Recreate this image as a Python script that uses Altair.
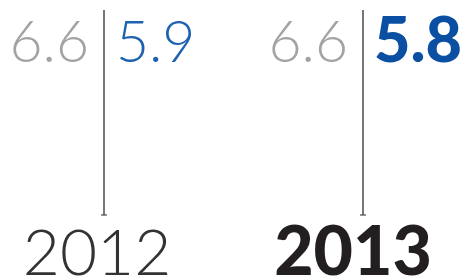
import altair as alt
import pandas as pd

years = ["2012", "2013"]
before = [6.6, 6.6]
after = [5.9, 5.8]

df = pd.DataFrame({"year": years, "before": before, "after": after})

xs = alt.X("year:N", scale=alt.Scale(type="point", domain=years, range=[96, 355], padding=0), axis=None)

base = alt.Chart(df)

rule = base.mark_rule(color="#4a4a4a", strokeWidth=1.5).encode(
    x=xs, y=alt.value(2), y2=alt.value(207)
)
tick = base.mark_rule(color="#4a4a4a", strokeWidth=1.2, xOffset=-3, x2Offset=3).encode(
    x=xs, x2="year:N", y=alt.value(207)
)
txt_before = base.mark_text(
    align="right", baseline="alphabetic", dx=-15, font="Lato", fontWeight=300,
    fontSize=57, color="#a3a3a3"
).encode(x=xs, y=alt.value(54), text=alt.Text("before:Q", format=".1f"))

after_2012 = base.transform_filter("datum.year == '2012'").mark_text(
    align="left", baseline="alphabetic", dx=12, font="Lato", fontWeight=300,
    fontSize=57, color="#1f62b0"
).encode(x=xs, y=alt.value(54), text=alt.Text("after:Q", format=".1f"))

after_2013 = base.transform_filter("datum.year == '2013'").mark_text(
    align="left", baseline="alphabetic", dx=11, font="Lato", fontWeight=900,
    fontSize=63, color="#0b4fa3"
).encode(x=xs, y=alt.value(54), text=alt.Text("after:Q", format=".1f"))

year_2012 = base.transform_filter("datum.year == '2012'").mark_text(
    align="center", baseline="alphabetic", dx=-7, font="Lato", fontWeight=300,
    fontSize=64, color="#333333"
).encode(x=xs, y=alt.value(267), text="year:N")

year_2013 = base.transform_filter("datum.year == '2013'").mark_text(
    align="center", baseline="alphabetic", dx=-10, font="Lato", fontWeight=900,
    fontSize=68, color="#231f20"
).encode(x=xs, y=alt.value(267), text="year:N")

chart = alt.layer(rule, tick, txt_before, after_2012, after_2013, year_2012, year_2013).properties(
    width=457, height=280, autosize=alt.AutoSizeParams(type="none"), padding=0
).configure_view(stroke=None)

chart.save("out.html", embed_options={"renderer": "svg", "actions": False})
